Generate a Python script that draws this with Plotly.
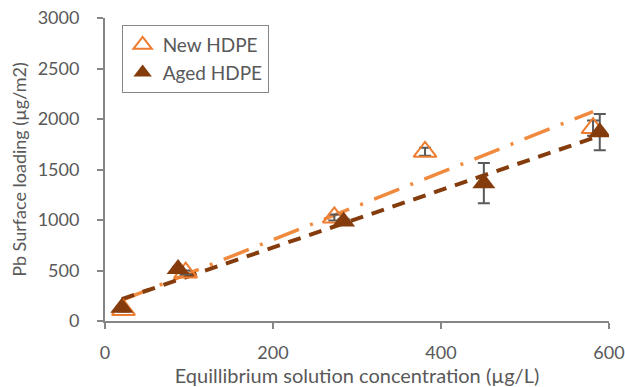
import numpy as np
import plotly.graph_objects as go

# Equilibrium concentration (µg/L) and Pb surface loading (µg/m2)
new_x = [22, 96, 273, 381, 581]
new_y = [110, 480, 1025, 1675, 1910]
new_err = [15, 20, 30, 40, 75]

aged_x = [20, 87, 284, 451, 589]
aged_y = [130, 515, 985, 1365, 1870]
aged_err = [15, 20, 25, 200, 180]

x_ticks = [0, 200, 400, 600]
y_ticks = [0, 500, 1000, 1500, 2000, 2500, 3000]

ORANGE = "#ED7D31"
LINE_ORANGE = "#F08A3E"
BROWN = "#843C0C"
GREY = "#595959"
AXIS = "#868686"
TOPLINE = "#AFAFAF"
FONT = "Lato"


def trend(xs, ys):
    slope, icpt = np.polyfit(xs, ys, 1)
    xx = np.array([min(xs), max(xs)])
    return xx, slope * xx + icpt


fig = go.Figure()

tx, ty = trend(new_x, new_y)
fig.add_trace(go.Scatter(x=tx, y=ty, mode="lines", showlegend=False,
                         line=dict(color=LINE_ORANGE, width=3.5,
                                   dash="27px,12px,3px,12px")))
tx, ty = trend(aged_x, aged_y)
fig.add_trace(go.Scatter(x=tx, y=ty, mode="lines", showlegend=False,
                         line=dict(color=BROWN, width=4, dash="13px,9px")))

fig.add_trace(go.Scatter(
    x=new_x, y=new_y, mode="markers", name="New HDPE",
    marker=dict(symbol="triangle-up-open", size=20, color=ORANGE,
                line=dict(width=2, color=ORANGE)),
    error_y=dict(type="data", array=new_err, color=GREY, thickness=2, width=6),
))
fig.add_trace(go.Scatter(
    x=aged_x, y=aged_y, mode="markers", name="Aged HDPE",
    marker=dict(symbol="triangle-up", size=20, color=BROWN,
                line=dict(width=0)),
    error_y=dict(type="data", array=aged_err, color=GREY, thickness=2, width=6),
))

axis_common = dict(
    showgrid=False, zeroline=False, ticks="outside", ticklen=6,
    tickwidth=1.5, tickcolor=AXIS, showline=True, linecolor=AXIS,
    linewidth=2, automargin=False, ticklabeloverflow="allow",
    tickfont=dict(family=FONT, size=18, color=GREY),
)
inner_ticks = dict(ticks="inside", ticklen=6, tickwidth=1.5, tickcolor=AXIS,
                   showticklabels=False, showgrid=False, zeroline=False,
                   showline=False, automargin=False)

fig.update_layout(
    width=625, height=387,
    margin=dict(l=105, r=16, t=18, b=66),
    paper_bgcolor="white", plot_bgcolor="white",
    font=dict(family=FONT, color=GREY),
    xaxis=dict(range=[0, 600], tickvals=x_ticks, ticklabelstandoff=8,
               **axis_common,
               title=dict(text="Equillibrium solution concentration (µg/L)",
                          font=dict(family=FONT, size=20, color=GREY),
                          standoff=4)),
    yaxis=dict(range=[0, 3000], tickvals=y_ticks, ticklabelstandoff=14,
               **axis_common,
               title=dict(text="Pb Surface loading (µg/m2)",
                          font=dict(family=FONT, size=18, color=GREY),
                          standoff=6)),
    # inner halves of the crossing tick marks
    xaxis2=dict(overlaying="x", side="bottom", range=[0, 600],
                tickvals=x_ticks, **inner_ticks),
    yaxis2=dict(overlaying="y", side="left", range=[0, 3000],
                tickvals=y_ticks, **inner_ticks),
    # lighter frame on the top and right edges
    xaxis3=dict(overlaying="x", side="top", range=[0, 600], showline=True,
                linecolor=TOPLINE, linewidth=2, showticklabels=False,
                ticks="", showgrid=False, zeroline=False, automargin=False),
    yaxis3=dict(overlaying="y", side="right", range=[0, 3000], showline=True,
                linecolor=AXIS, linewidth=2, showticklabels=False,
                ticks="", showgrid=False, zeroline=False, automargin=False),
    legend=dict(x=0.033, y=0.977, xanchor="left", yanchor="top",
                bgcolor="white", bordercolor=AXIS, borderwidth=1,
                font=dict(family=FONT, size=19, color=GREY),
                itemsizing="trace", tracegroupgap=0),
)

fig.write_html("out.html")
